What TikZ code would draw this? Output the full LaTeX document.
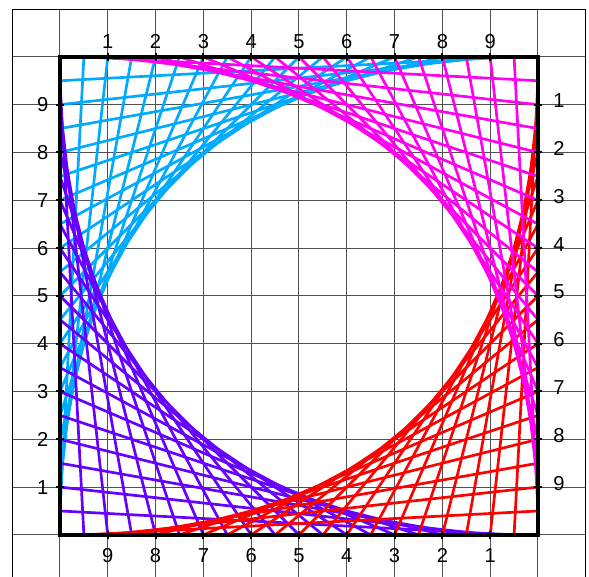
\documentclass[tikz,border=0pt]{standalone}
\usepackage{fontspec}
\setmainfont{Liberation Sans}
\definecolor{cyanstr}{RGB}{0,170,255}
\definecolor{purplestr}{RGB}{102,0,255}
\definecolor{redstr}{RGB}{255,0,0}
\definecolor{magentastr}{RGB}{255,0,240}
\definecolor{gridgray}{RGB}{80,80,80}
\begin{document}
\begin{tikzpicture}[x=1cm,y=1cm,
  gridline/.style={draw=gridgray,line width=0.6pt},
  frameline/.style={draw=black,line width=0.6pt},
  stringline/.style={line width=1.6pt},
  borderline/.style={draw=black,line width=2pt},
  tickline/.style={draw=black,line width=1.2pt},
  lbl/.style={font=\fontsize{12}{13}\selectfont,inner sep=0pt}]
\useasboundingbox (-1.255,-0.872) rectangle (11.067,11.19);
\clip (-1.255,-0.872) rectangle (11.067,11.19);
\draw[gridline] (-1,-1) grid (11,11);
\draw[frameline] (-1,-1) rectangle (11,11);
% strings
\foreach \s in {0.5,1,...,9.5}{
  \draw[stringline,cyanstr] (0,\s) -- (\s,10);
}
\foreach \s in {0.5,1,...,9.5}{
  \draw[stringline,purplestr] ({10-\s},0) -- (0,\s);
}
\foreach \s in {0.5,1,...,9.5}{
  \draw[stringline,redstr] (10,{10-\s}) -- ({10-\s},0);
}
\foreach \s in {0.5,1,...,9.5}{
  \draw[stringline,magentastr] (\s,10) -- (10,{10-\s});
}
\draw[borderline] (0,0) rectangle (10,10);
\foreach \k in {1,...,9}{
  \draw[tickline] (\k,9.92) -- (\k,10.08);
  \draw[tickline] (\k,-0.08) -- (\k,0.08);
  \draw[tickline] (-0.08,\k) -- (0.08,\k);
  \draw[tickline] (9.92,\k) -- (10.08,\k);
  \node[lbl] (t\k) at (\k,10.32) {\k};
  \node[lbl] (l\k) at (-0.36,\k) {\k};
  \node[lbl] (r\k) at (10.44,{10-\k+0.08}) {\k};
  \node[lbl] (b\k) at ({10-\k},-0.44) {\k};
}
\end{tikzpicture}
\end{document}
